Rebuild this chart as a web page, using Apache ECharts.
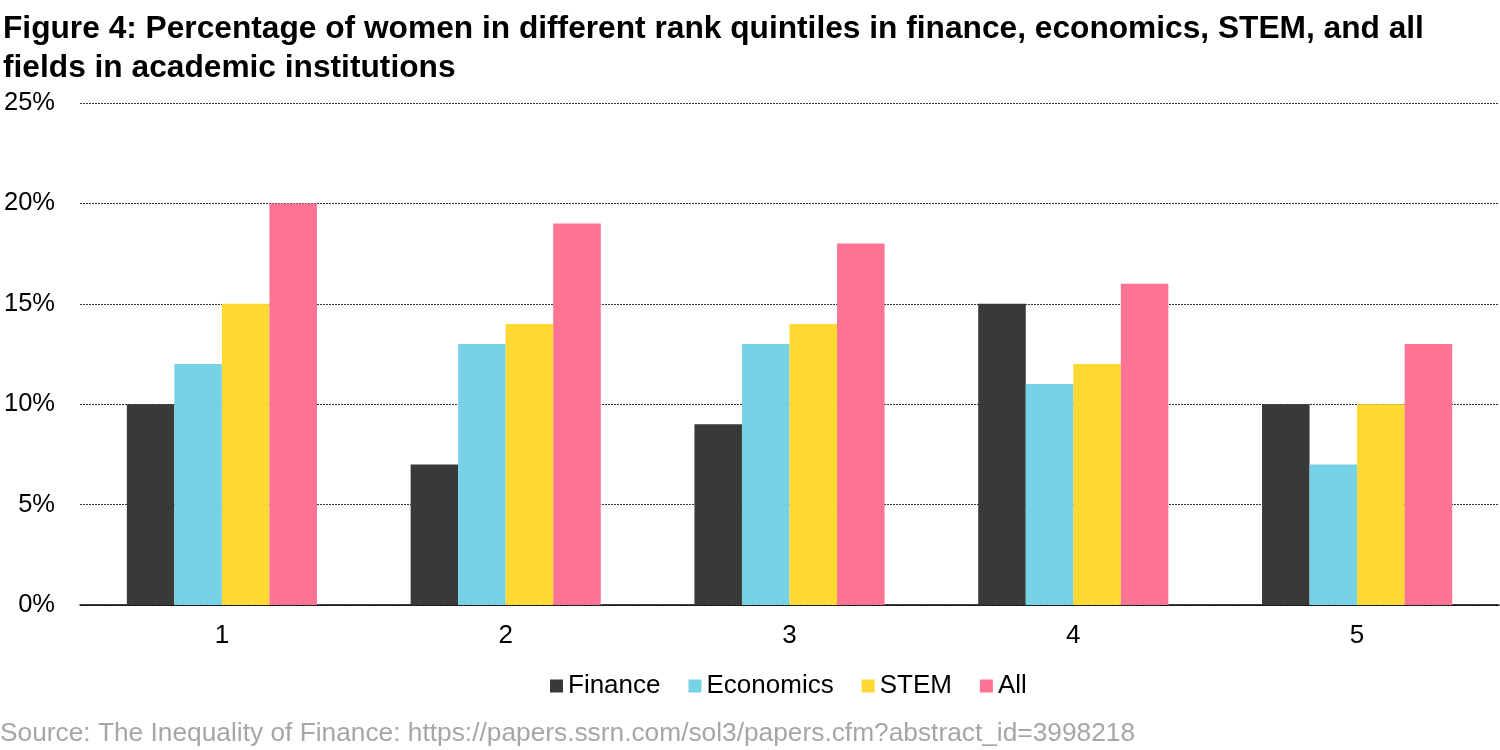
<!DOCTYPE html>
<html lang="en">
<head>
    <meta charset="UTF-8">
    <title>Figure 4</title>
    <script src="https://cdn.jsdelivr.net/npm/echarts@6/dist/echarts.min.js"></script>
</head>
<style>
    * { margin: 0px; padding: 0px; }
    html, body { width: 100%; height: 100%; overflow: hidden; background: #fff; }
    .container { width: 1500px; height: 750px; }
</style>
<body>
    <div class="container"></div>
</body>
<script>
    // rank quintiles
    let quintiles = ['1', '2', '3', '4', '5'];
    let finance   = [10, 7, 9, 15, 10];
    let economics = [12, 13, 13, 11, 7];
    let stem      = [15, 14, 14, 12, 10];
    let all       = [20, 19, 18, 16, 13];
    let seriesNames = ['Finance', 'Economics', 'STEM', 'All'];
    let colors = ['#373a37', '#78d2e6', '#fed933', '#fd7393'];

    let font = 'Liberation Sans, Arial, sans-serif';
    let chart = echarts.init(document.querySelector('.container'));

    let series = [finance, economics, stem, all].map((vals, i) => ({
        name: seriesNames[i],
        type: 'bar',
        data: vals,
        barGap: '0%',
        barCategoryGap: '33%',
        itemStyle: { color: colors[i] }
    }));

    chart.setOption({
        animation: false,
        textStyle: { fontFamily: font },
        title: {
            text: 'Figure 4: Percentage of women in different rank quintiles in finance, economics, STEM, and all\nfields in academic institutions',
            left: 3,
            top: 10,
            padding: 0,
            textStyle: { fontSize: 31.7, fontWeight: 'bold', color: '#000', lineHeight: 39, fontFamily: font }
        },
        graphic: [{
            type: 'text',
            left: 0,
            top: 721,
            style: {
                text: 'Source: The Inequality of Finance: https://papers.ssrn.com/sol3/papers.cfm?abstract_id=3998218',
                fill: '#a6a6a6',
                font: '26.3px ' + font
            }
        }],
        legend: {
            data: seriesNames,
            left: 545,
            top: 668,
            itemWidth: 13,
            itemHeight: 13,
            itemGap: 28,
            icon: 'rect',
            textStyle: { fontSize: 26, color: '#000', fontFamily: font }
        },
        grid: { left: 80, right: 1, top: 103, bottom: 145 },
        xAxis: {
            type: 'category',
            data: quintiles,
            axisLine: { lineStyle: { color: '#000', width: 1.5 } },
            axisTick: { show: false },
            axisLabel: { fontSize: 26, color: '#000', margin: 18 }
        },
        yAxis: {
            type: 'value',
            min: 0,
            max: 25,
            interval: 5,
            axisLabel: {
                formatter: '{value}%',
                fontSize: 25.5,
                color: '#000',
                margin: 25
            },
            axisLine: { show: false },
            axisTick: { show: false },
            splitLine: { lineStyle: { color: '#333', type: [2, 1], width: 1 } }
        },
        series
    });
</script>
</html>
